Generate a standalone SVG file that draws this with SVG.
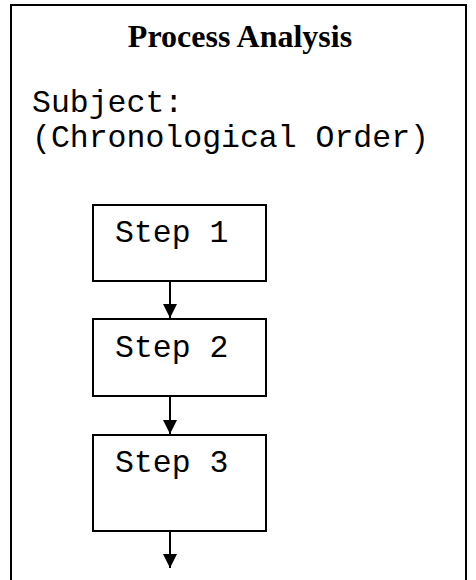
<svg xmlns="http://www.w3.org/2000/svg" width="476" height="580" viewBox="0 0 476 580">
<defs>
<style>
.frame{fill:none;stroke:#000;stroke-width:2}
.box{fill:#fff;stroke:#000;stroke-width:2}
.mono{font-family:"Liberation Mono","Courier New",monospace;font-size:31.5px;fill:#000}
.title{font-family:"Liberation Serif","Times New Roman",serif;font-size:32px;font-weight:bold;fill:#000}
.conn{stroke:#000;stroke-width:2;fill:none}
</style>
<marker id="arr" markerWidth="14" markerHeight="14" refX="14" refY="7" orient="auto" markerUnits="userSpaceOnUse">
<path d="M0,0 L14,7 L0,14 Z" fill="#000"/>
</marker>
</defs>
<rect x="0" y="0" width="476" height="580" fill="#fff"/>
<path class="frame" d="M11,581 L11,5 L466,5 L466,581"/>
<text class="title" x="240" y="47" text-anchor="middle">Process Analysis</text>
<text class="mono" x="32" y="112">Subject:</text>
<text class="mono" x="32" y="147">(Chronological Order)</text>
<g id="step1">
<rect class="box" x="93" y="205" width="173" height="76"/>
<text class="mono" x="115" y="242">Step 1</text>
</g>
<g id="step2">
<rect class="box" x="93" y="319" width="173" height="77"/>
<text class="mono" x="115" y="357">Step 2</text>
</g>
<g id="step3">
<rect class="box" x="93" y="435" width="173" height="96"/>
<text class="mono" x="115" y="472">Step 3</text>
</g>
<g id="connectors">
<line class="conn" x1="170" y1="281" x2="170" y2="318" marker-end="url(#arr)"/>
<line class="conn" x1="170" y1="396" x2="170" y2="434" marker-end="url(#arr)"/>
<line class="conn" x1="170" y1="531" x2="170" y2="568" marker-end="url(#arr)"/>
</g>
</svg>
